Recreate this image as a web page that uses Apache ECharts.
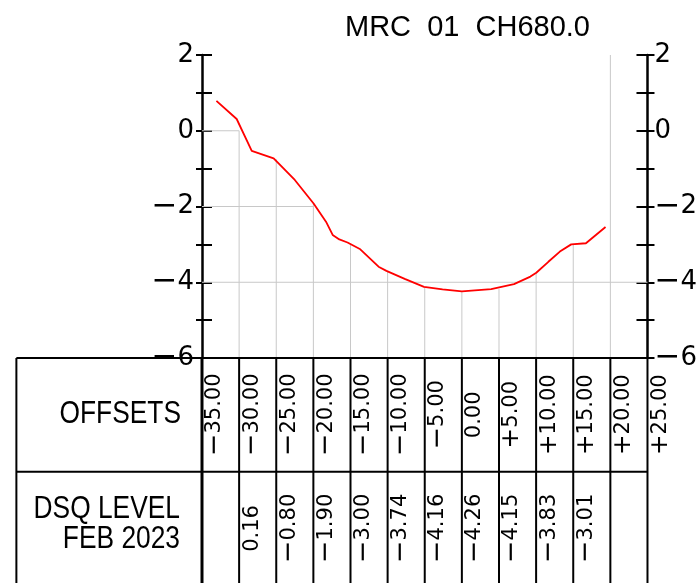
<!DOCTYPE html>
<html><head><meta charset="utf-8">
<script src="https://cdn.jsdelivr.net/npm/echarts@6/dist/echarts.min.js"></script>
<style>html,body{margin:0;padding:0;background:#fff}#c{width:700px;height:583px}</style>
</head><body><div id="c"></div>
<script>
// ---- data ----
const titleText = 'MRC  01  CH680.0';
const offsets = [-35, -30, -25, -20, -15, -10, -5, 0, 5, 10, 15, 20, 25];
const dsqLevels = [null, 0.16, -0.80, -1.90, -3.00, -3.74, -4.16, -4.26, -4.15, -3.83, -3.01, null, null];
const rowLabelOffsets = 'OFFSETS';
const rowLabelLevels = 'DSQ LEVEL\nFEB 2023';
const profileX = [-33.06, -30.33, -28.3, -25.35, -22.5, -19.97, -18.3, -17.4, -16.5, -15.4, -13.68, -11.22, -10.16, -7.7, -5.1, -2.6, 0.0, 3.95, 7.02, 9.23, 10.02, 11.65, 13.2, 14.73, 16.71, 19.35];
const profileY = [0.79, 0.31, -0.53, -0.73, -1.30, -1.92, -2.40, -2.75, -2.87, -2.95, -3.13, -3.59, -3.70, -3.91, -4.12, -4.19, -4.24, -4.18, -4.05, -3.85, -3.75, -3.46, -3.19, -3.00, -2.97, -2.54];
// vertical grid lines (inner offsets) start at these levels
const vGridX = [-30, -25, -20, -15, -10, -5, 0, 5, 10, 15, 20];
const vGridTop = [0, -0.75, -1.92, -2.98, -3.70, -4.13, -4.24, -4.18, -3.75, -3.00, 2];
// horizontal grid lines: level and right end
const hGridY = [0, -2, -4];
const hGridEnd = [-30, -20, 25];
// table extents in chart units
const tableLeft = -60;
const tableRows = [-6, -9, -12];
const yMin = -6, yMax = 2;

// ---- helpers ----
const FONT = 'DejaVu Sans';
const ROWFONT = '"Liberation Sans", Arial, sans-serif';
function signedRich(v, plus) {
  const s = Math.abs(v).toFixed(2);
  if (v < 0) return '{m|\u2212}{d|' + s + '}';
  if (v > 0 && plus) return '{p|+}{d|' + s + '}';
  return '{d|' + s + '}';
}
const richTable = {
  m: {fontSize: 27, fontFamily: FONT, fill: '#000', color: '#000'},
  p: {fontSize: 25, fontFamily: FONT, fill: '#000', color: '#000'},
  d: {fontSize: 21, fontFamily: FONT, fill: '#000', color: '#000'}
};
const richAxis = {
  m: {fontSize: 31, fontFamily: FONT, color: '#000'},
  d: {fontSize: 26, fontFamily: FONT, color: '#000'}
};
function axisFmt(v) {
  if (Math.abs(v) % 2 === 1) return '';
  if (v < 0) return '{m|\u2212}{d|' + (-v) + '}';
  return '{d|' + v + '}';
}

const chart = echarts.init(document.getElementById('c'), null, {renderer: 'canvas'});

function gridRender(params, api) {
  const ch = [];
  const st = {stroke: '#c8c8c8', lineWidth: 1};
  vGridX.forEach((x, i) => {
    const a = api.coord([x, vGridTop[i]]), b = api.coord([x, yMin]);
    ch.push({type: 'line', shape: {x1: a[0], y1: a[1], x2: b[0], y2: b[1]}, style: st});
  });
  hGridY.forEach((y, i) => {
    const a = api.coord([offsets[0], y]), b = api.coord([hGridEnd[i], y]);
    ch.push({type: 'line', shape: {x1: a[0], y1: a[1], x2: b[0], y2: b[1]}, style: st});
  });
  return {type: 'group', children: ch};
}

function tableRender(params, api) {
  const ch = [];
  const blk = {stroke: '#000', lineWidth: 2};
  [tableRows[0], tableRows[1]].forEach(y => {
    const a = api.coord([tableLeft, y]), b = api.coord([offsets[offsets.length - 1], y]);
    ch.push({type: 'line', shape: {x1: a[0], y1: a[1], x2: b[0], y2: b[1]}, style: blk});
  });
  [tableLeft].concat(offsets).forEach(x => {
    const a = api.coord([x, tableRows[0]]), b = api.coord([x, tableRows[2]]);
    ch.push({type: 'line', shape: {x1: a[0], y1: a[1], x2: b[0], y2: b[1]},
      style: {stroke: '#000', lineWidth: x === offsets[0] ? 3 : 2}});
  });
  const r1 = api.coord([offsets[0], (tableRows[0] + tableRows[1]) / 2]);
  ch.push({type: 'text', x: r1[0] - 21, y: r1[1], scaleX: 0.85,
    style: {text: rowLabelOffsets, font: '31px ' + ROWFONT, fill: '#000', align: 'right', verticalAlign: 'middle'}});
  const r2 = api.coord([offsets[0], -10.4]);
  ch.push({type: 'text', x: r2[0] - 22, y: r2[1], scaleX: 0.85,
    style: {text: rowLabelLevels, font: '31px ' + ROWFONT, lineHeight: 29.5, fill: '#000', align: 'right', verticalAlign: 'middle'}});
  offsets.forEach((x, i) => {
    const p = api.coord([x, (tableRows[0] + tableRows[1]) / 2]);
    ch.push({type: 'text', x: p[0] + 13, y: p[1], rotation: Math.PI / 2,
      style: {text: signedRich(x, true), rich: richTable, fill: '#000', align: 'center', verticalAlign: 'middle'}});
    if (dsqLevels[i] !== null) {
      const q = api.coord([x, (tableRows[1] + tableRows[2]) / 2]);
      ch.push({type: 'text', x: q[0] + 13, y: q[1], rotation: Math.PI / 2,
        style: {text: signedRich(dsqLevels[i], false), rich: richTable, fill: '#000', align: 'center', verticalAlign: 'middle'}});
    }
  });
  return {type: 'group', children: ch};
}

const yBase = {type: 'value', min: yMin, max: yMax, interval: 1, splitLine: {show: false}};
const lineBlk = {color: '#000', width: 2.5};
const tickBlk = {color: '#000', width: 2};

chart.setOption({
  animation: false,
  backgroundColor: '#fff',
  title: {text: titleText, left: 340, top: 8,
    textStyle: {fontFamily: 'Liberation Sans', fontSize: 29, fontWeight: 'normal', color: '#000'}},
  grid: {left: 202, right: 44, top: 55, bottom: 225, containLabel: false},
  xAxis: {type: 'value', min: offsets[0], max: offsets[offsets.length - 1], show: false},
  yAxis: [
    Object.assign({}, yBase, {position: 'left', axisLine: {show: true, onZero: false, lineStyle: lineBlk},
      axisTick: {show: true, inside: false, length: 6, lineStyle: tickBlk},
      axisLabel: {margin: 8, formatter: axisFmt, rich: richAxis, color: '#000'}}),
    Object.assign({}, yBase, {position: 'left', axisLine: {show: false, onZero: false},
      axisTick: {show: true, inside: true, length: 10, lineStyle: tickBlk}, axisLabel: {show: false}}),
    Object.assign({}, yBase, {position: 'right', axisLine: {show: true, onZero: false, lineStyle: lineBlk},
      axisTick: {show: true, inside: false, length: 7, lineStyle: tickBlk},
      axisLabel: {margin: 7, formatter: axisFmt, rich: richAxis, color: '#000'}}),
    Object.assign({}, yBase, {position: 'right', axisLine: {show: false, onZero: false},
      axisTick: {show: true, inside: true, length: 11, lineStyle: tickBlk}, axisLabel: {show: false}})
  ],
  series: [
    {type: 'custom', name: 'grid', clip: false, z: 1, renderItem: gridRender, data: [[0, 0]], silent: true},
    {type: 'line', name: 'DSQ LEVEL FEB 2023', z: 3, showSymbol: false, symbol: 'none',
      lineStyle: {color: '#ff0000', width: 1.8}, data: profileX.map((x, i) => [x, profileY[i]])},
    {type: 'custom', name: 'table', clip: false, z: 4, renderItem: tableRender, data: [[0, 0]], silent: true}
  ]
});
</script></body></html>
